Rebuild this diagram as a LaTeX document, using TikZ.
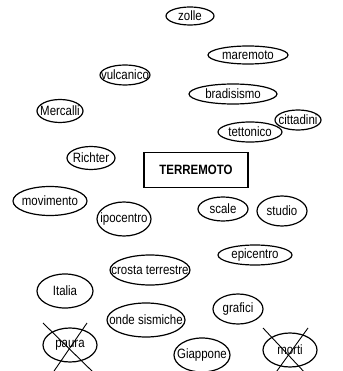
\documentclass[tikz,border=0pt]{standalone}
\usepackage{fontspec}
\setmainfont{Liberation Sans}[FakeStretch=0.85]

\begin{document}
\begin{tikzpicture}[
  x=1pt,y=-1pt,
  word/.style={inner sep=0pt,font=\fontsize{13.5}{15}\selectfont},
  bub/.style={line width=1.2pt},
  topic/.style={draw,line width=1.5pt,minimum width=104pt,minimum height=35pt,
  inner sep=0pt,font=\fontsize{13.5}{15}\selectfont\bfseries},
  cross/.style={line width=0.9pt}
]
\clip (0,0) rectangle (342,371);
\node[topic] (terremoto) at (196,170) {TERREMOTO};
\node[word] (zolle) at (190,16) {zolle};
\node[word] (maremoto) at (248,55) {maremoto};
\node[word] (vulcanico) at (125,75) {vulcanico};
\node[word] (bradisismo) at (233,94) {bradisismo};
\node[word] (mercalli) at (60,111) {Mercalli};
\node[word] (cittadini) at (298,120) {cittadini};
\node[word] (tettonico) at (250,132) {tettonico};
\node[word] (richter) at (91,158) {Richter};
\node[word] (movimento) at (50,201) {movimento};
\node[word] (ipocentro) at (124,219) {ipocentro};
\node[word] (scale) at (223,209) {scale};
\node[word] (studio) at (282,211) {studio};
\node[word] (epicentro) at (255,255) {epicentro};
\node[word] (crosta) at (150,270) {crosta terrestre};
\node[word] (italia) at (65,291) {Italia};
\node[word] (grafici) at (238,309) {grafici};
\node[word] (onde) at (146,320) {onde sismiche};
\node[word] (paura) at (70,345) {paura};
\node[word] (giappone) at (202,355) {Giappone};
\node[word] (morti) at (290,350) {morti};
% ellipses round the words
\foreach \n/\rx/\ry in {zolle/24/9,maremoto/40/9,vulcanico/25/10,
  bradisismo/44/10,mercalli/23/11.5,cittadini/23/10,tettonico/32/10,
  richter/24/11.5,movimento/37/14.5,ipocentro/27/17,scale/25/12,
  studio/25/15,epicentro/37/10,crosta/40/15,italia/28/17,grafici/25/15,
  onde/39/17,paura/27/17,giappone/28/17,morti/27/17}
  \draw[bub] (\n.center) ellipse [x radius=\rx, y radius=\ry];
% crossed out
\draw[cross] (paura.center) ++(-27,-22) -- ++(52,51);
\draw[cross] (paura.center) ++(17,-22) -- ++(-35,51);
\draw[cross] (morti.center) ++(-27,-22) -- ++(44,47);
\draw[cross] (morti.center) ++(18,-22) -- ++(-34,47);
\end{tikzpicture}
\end{document}
